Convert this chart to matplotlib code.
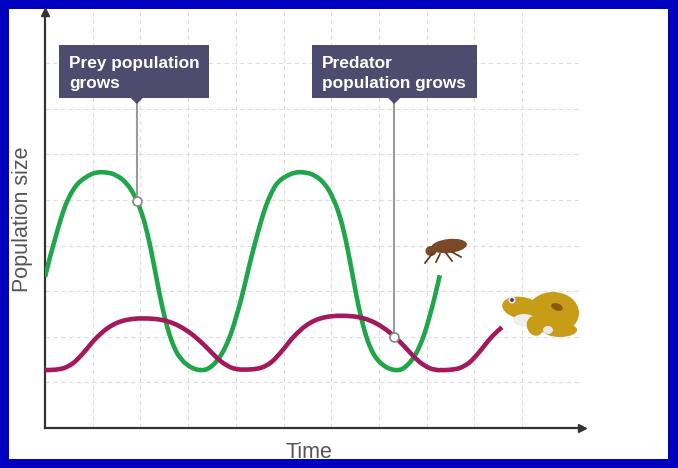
import matplotlib
matplotlib.use("Agg")
import matplotlib.pyplot as plt
from matplotlib.patches import Rectangle, Ellipse, Polygon, Circle, PathPatch
from matplotlib.path import Path

# ---- data (x in grid units of time, y in grid units of size)
prey_x = [0.0, 0.098, 0.207, 0.316, 0.425, 0.534, 0.643, 0.752, 0.861, 0.970, 1.079, 1.19,
          1.295, 1.40, 1.505, 1.61, 1.715, 1.82, 1.925, 2.03, 2.135, 2.24, 2.345, 2.45,
          2.555, 2.66, 2.765, 2.87, 2.975, 3.08, 3.185, 3.29,
          3.393, 3.496, 3.599, 3.702, 3.805, 3.908, 4.011, 4.114, 4.217, 4.32, 4.423,
          4.526, 4.629, 4.732, 4.835, 4.938, 5.041, 5.144, 5.247, 5.35,
          5.452, 5.553, 5.655, 5.756, 5.858, 5.959, 6.061, 6.162, 6.264, 6.365, 6.467,
          6.568, 6.670, 6.771, 6.873, 6.974, 7.076, 7.177, 7.279, 7.38,
          7.478, 7.575, 7.673, 7.77, 7.868, 7.965, 8.063, 8.16, 8.277]
prey_y = [3.31, 3.72, 4.13, 4.53, 4.87, 5.12, 5.30, 5.42, 5.50, 5.565, 5.60, 5.61,
          5.60, 5.58, 5.53, 5.46, 5.35, 5.20, 4.98, 4.70, 4.31, 3.81, 3.245, 2.70,
          2.247, 1.899, 1.652, 1.496, 1.392, 1.322, 1.283, 1.27,
          1.29, 1.36, 1.47, 1.62, 1.83, 2.10, 2.45, 2.83, 3.27, 3.72, 4.13,
          4.52, 4.86, 5.12, 5.32, 5.44, 5.51, 5.565, 5.60, 5.61,
          5.60, 5.58, 5.53, 5.46, 5.35, 5.20, 4.98, 4.70, 4.31, 3.81, 3.245,
          2.70, 2.247, 1.899, 1.652, 1.496, 1.392, 1.322, 1.283, 1.27,
          1.29, 1.36, 1.47, 1.62, 1.83, 2.10, 2.45, 2.83, 3.35]

pred_x = [0.0, 0.2, 0.4, 0.6, 0.8, 0.95, 1.1, 1.3, 1.5, 1.7,
          1.9, 2.05, 2.3, 2.55, 2.8, 3.05, 3.3, 3.5, 3.7, 3.9,
          4.05, 4.15, 4.35, 4.55, 4.75, 4.95, 5.1, 5.25, 5.45, 5.65,
          5.85, 6.05, 6.2, 6.45, 6.7, 6.95, 7.2, 7.45, 7.65, 7.85,
          8.05, 8.2, 8.3, 8.5, 8.7, 8.9, 9.1, 9.25, 9.4, 9.58]
pred_y = [1.27, 1.278, 1.316, 1.431, 1.641, 1.829, 2.001, 2.181, 2.301, 2.368,
          2.397, 2.402, 2.392, 2.345, 2.242, 2.08, 1.857, 1.647, 1.452, 1.327,
          1.288, 1.282, 1.288, 1.328, 1.448, 1.667, 1.862, 2.042, 2.229, 2.354,
          2.424, 2.454, 2.46, 2.449, 2.399, 2.29, 2.117, 1.881, 1.658, 1.451,
          1.318, 1.276, 1.27, 1.278, 1.318, 1.439, 1.66, 1.856, 2.037, 2.21]

prey_note = ["Prey population", "grows"]
pred_note = ["Predator", "population grows"]
prey_point = (1.925, 4.98)
pred_point = (7.32, 2.0)
x_label = "Time"
y_label = "Population size"

W, H = 678, 468
fig = plt.figure(figsize=(W / 100, H / 100), dpi=100, facecolor="#0000c0")

# background overlay in pixel coordinates
bg = fig.add_axes([0, 0, 1, 1], zorder=0)
bg.set_xlim(0, W)
bg.set_ylim(H, 0)
bg.axis("off")
bg.add_patch(Rectangle((9, 9), 659, 450, facecolor="white", edgecolor="none"))

FONT = "Liberation Sans"
bg.text(22.5, 219, y_label, rotation=90, ha="center", va="center",
        fontsize=15.5, color="#555555", family=FONT)
bg.text(309, 458, x_label, ha="center", va="baseline",
        fontsize=15.5, color="#555555", family=FONT)

# data axes
x0, x1, ytop, ybot = 45, 582, 12, 428
ax = fig.add_axes([x0 / W, (H - ybot) / H, (x1 - x0) / W, (ybot - ytop) / H], zorder=1)
ax.patch.set_alpha(0)
ax.set_xlim(0, (x1 - x0) / 47.7)
ax.set_ylim(0, (ybot - ytop) / 45.6)
ax.set_xticks(range(1, 11))
ax.set_yticks(range(1, 9))
ax.tick_params(length=0, labelbottom=False, labelleft=False)
ax.grid(True, color="#dedede", linestyle=(0, (4, 3)), linewidth=0.8)
for s in ["top", "right"]:
    ax.spines[s].set_visible(False)
for s in ["left", "bottom"]:
    ax.spines[s].set_color("#333333")
    ax.spines[s].set_linewidth(1.6)
ax.plot([0], [1], marker="^", color="#333333", markersize=6, transform=ax.transAxes, clip_on=False)
ax.plot([1], [0], marker=">", color="#333333", markersize=6, transform=ax.transAxes, clip_on=False)


def smooth_path(xs, ys):
    """Catmull-Rom curve through the read points, as cubic Bezier segments."""
    pts = list(zip(xs, ys))
    verts = [pts[0]]
    codes = [Path.MOVETO]
    n = len(pts)
    for i in range(n - 1):
        p0 = pts[i - 1] if i > 0 else pts[i]
        p1 = pts[i]
        p2 = pts[i + 1]
        p3 = pts[i + 2] if i + 2 < n else pts[i + 1]
        c1 = (p1[0] + (p2[0] - p0[0]) / 6, p1[1] + (p2[1] - p0[1]) / 6)
        c2 = (p2[0] - (p3[0] - p1[0]) / 6, p2[1] - (p3[1] - p1[1]) / 6)
        verts += [c1, c2, p2]
        codes += [Path.CURVE4] * 3
    return Path(verts, codes)


for xs, ys, col in [(prey_x, prey_y, "#1fa64a"), (pred_x, pred_y, "#a3195b")]:
    ax.add_patch(PathPatch(smooth_path(xs, ys), facecolor="none", edgecolor=col,
                           linewidth=3.3, capstyle="butt", joinstyle="round", zorder=3))

# top overlay for notes and pictures
top = fig.add_axes([0, 0, 1, 1], zorder=2)
top.patch.set_alpha(0)
top.set_xlim(0, W)
top.set_ylim(H, 0)
top.axis("off")

fig.canvas.draw()
def to_px(pt):
    dx, dy = ax.transData.transform(pt)
    return dx, H - dy

BOX = "#4e4c6e"
def note(lines, bx0, bx1, pt):
    px, py = to_px(pt)
    by0, by1 = 45, 98
    top.add_patch(Rectangle((bx0, by0), bx1 - bx0, by1 - by0, facecolor=BOX, edgecolor="none"))
    top.add_patch(Polygon([[px - 6, by1], [px + 6, by1], [px, by1 + 6]], closed=True,
                          facecolor=BOX, edgecolor="none"))
    ax.plot([pt[0], pt[0]], [pt[1], ax.transData.inverted().transform((px, H - by1 - 4))[1]],
            color="#9a9a9a", linewidth=1.5, zorder=4, clip_on=False)
    top.text(bx0 + 10, 68, lines[0], color="white", fontweight="bold", fontsize=12.4,
             family=FONT, va="baseline")
    top.text(bx0 + 10, 88, lines[1], color="white", fontweight="bold", fontsize=12.4,
             family=FONT, va="baseline")
    ax.plot([pt[0]], [pt[1]], marker="o", markersize=6.5, markerfacecolor="white",
            markeredgecolor="#888888", markeredgewidth=1.2, zorder=5)

note(prey_note, 59, 209, prey_point)
note(pred_note, 312, 477, pred_point)

# simple fly drawing
fly = "#7a4a28"
top.add_patch(Ellipse((449, 246), 36, 14, angle=-6, facecolor=fly, edgecolor="none"))
top.add_patch(Ellipse((431, 251), 11, 10, facecolor=fly, edgecolor="none"))
for lx, ly, ex, ey in [(432, 254, 425, 263), (440, 254, 436, 262), (446, 253, 452, 261),
                       (452, 252, 461, 257)]:
    top.plot([lx, ex], [ly, ey], color="#5a3418", linewidth=1.2)

# simple frog drawing
frog = "#c79c16"
top.add_patch(Ellipse((553, 313), 52, 42, facecolor=frog, edgecolor="none"))
top.add_patch(Ellipse((522, 308), 40, 22, angle=10, facecolor=frog, edgecolor="none"))
top.add_patch(Ellipse((524, 320), 22, 12, facecolor="#eeeeee", edgecolor="none"))
top.add_patch(Ellipse((535, 326), 16, 20, angle=-20, facecolor=frog, edgecolor="none"))
top.add_patch(Ellipse((560, 330), 34, 14, facecolor=frog, edgecolor="none"))
top.add_patch(Ellipse((548, 330), 10, 8, facecolor="#e8e8e8", edgecolor="none"))
top.add_patch(Ellipse((557, 307), 12, 7, angle=20, facecolor="#8a5a18", edgecolor="none"))
top.add_patch(Circle((512, 300), 3.6, facecolor="#dde0f0", edgecolor="none"))
top.add_patch(Circle((512, 300), 1.8, facecolor="#333355", edgecolor="none"))

fig.savefig("out.png", dpi=100, facecolor=fig.get_facecolor())
